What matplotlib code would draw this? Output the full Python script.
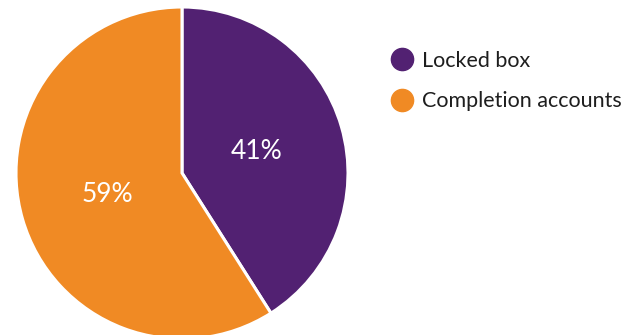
import matplotlib
matplotlib.use("Agg")
import matplotlib.pyplot as plt
from matplotlib.lines import Line2D

labels = ["Locked box", "Completion accounts"]
shares = [41, 59]
colours = ["#522172", "#F08A24"]

plt.rcParams["font.family"] = ["Lato", "DejaVu Sans"]

fig = plt.figure(figsize=(6.42, 3.35), dpi=100)

# pie sits on the left, slightly clipped at the bottom edge
ax = fig.add_axes([16 / 642, -4 / 335, 332 / 642, 332 / 335])
wedges, texts, autotexts = ax.pie(
    shares, colors=colours, startangle=90, counterclock=False,
    autopct=lambda p: f"{round(p)}%", pctdistance=0.47, radius=1.0,
    wedgeprops=dict(edgecolor="white", linewidth=2.2),
    textprops=dict(color="white", fontsize=19),
)
ax.set_xlim(-1.0, 1.0)
ax.set_ylim(-1.0, 1.0)
ax.set_aspect("equal")
ax.axis("off")

handles = [Line2D([], [], marker="o", linestyle="", markersize=16,
                  markerfacecolor=c, markeredgecolor=c) for c in colours]
fig.legend(handles, labels, loc="upper left", bbox_to_anchor=(382 / 642, 1 - 42 / 335),
           frameon=False, fontsize=15.5, handletextpad=0.35, labelspacing=0.95,
           handlelength=1.1, borderaxespad=0, labelcolor="#1e1e1e")

fig.savefig("out.png", dpi=100)
plt.close(fig)
